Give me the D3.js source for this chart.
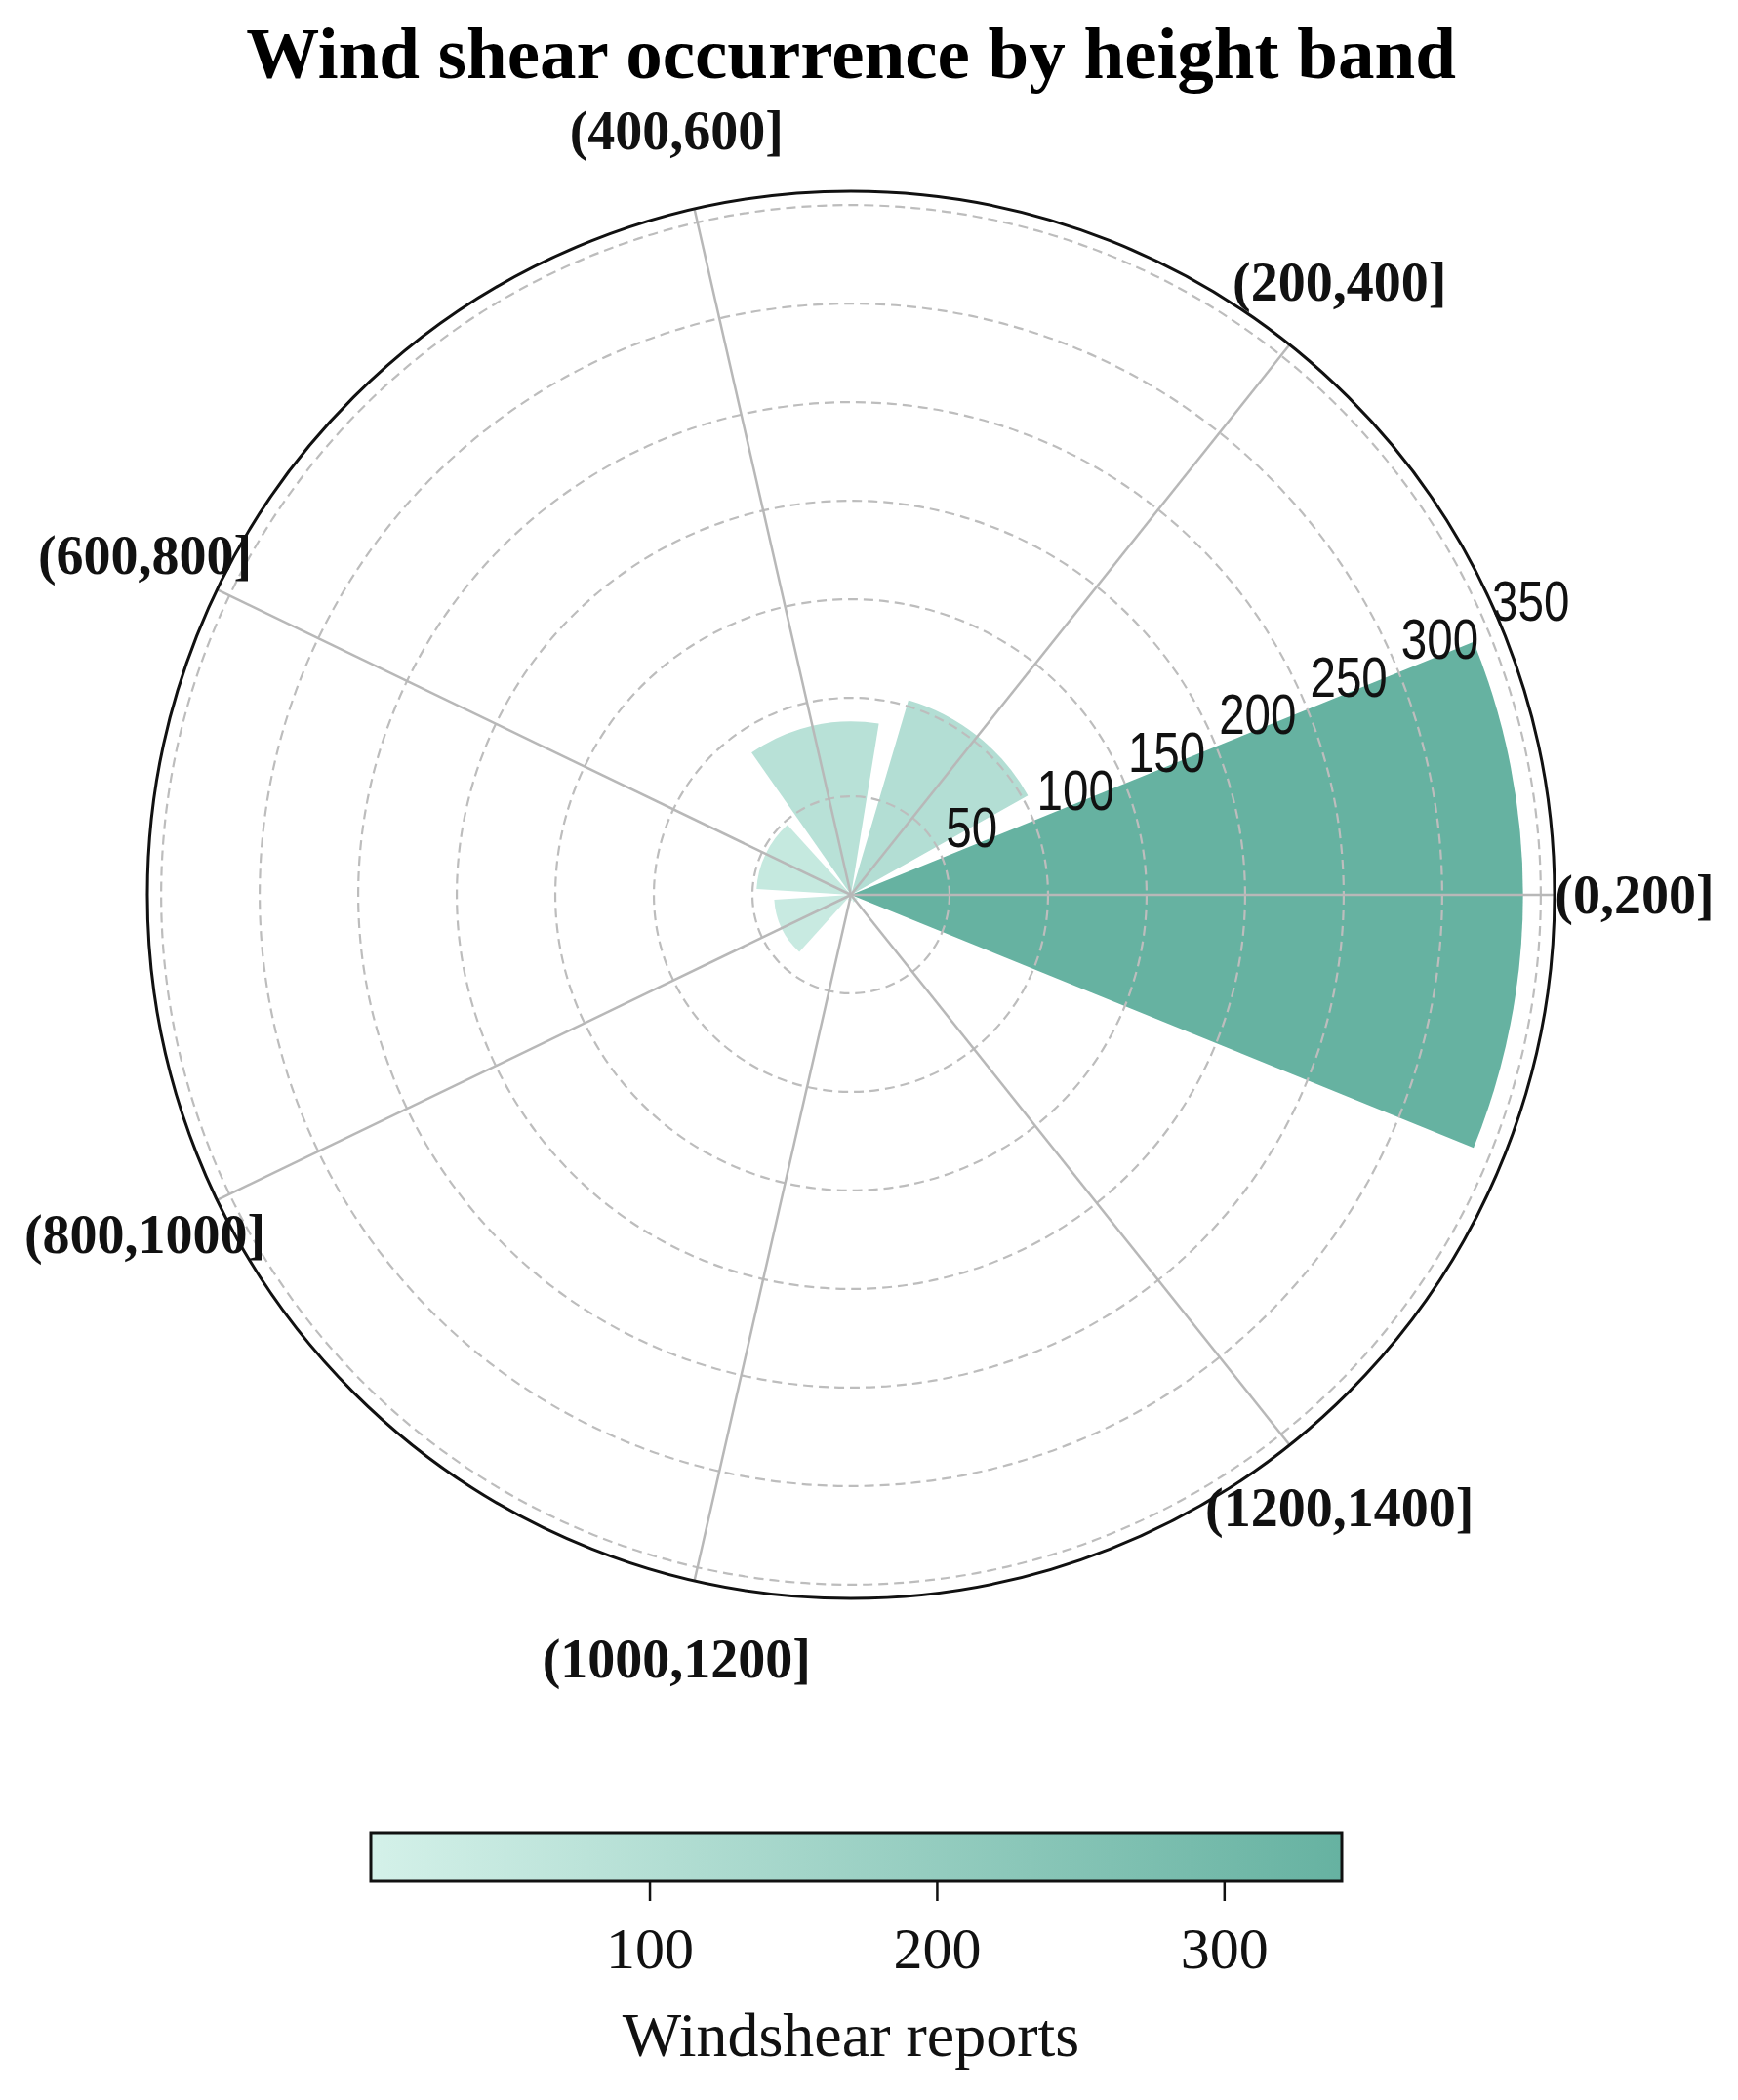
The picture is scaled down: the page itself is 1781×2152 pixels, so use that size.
<!DOCTYPE html>
<html>
<head>
<meta charset="utf-8">
<script src="https://cdnjs.cloudflare.com/ajax/libs/d3/7.8.5/d3.min.js"></script>
<style>
  body { margin: 0; background: #fff; }
</style>
</head>
<body>
<script>
// data
var bands = ["(0,200]", "(200,400]", "(400,600]", "(600,800]", "(800,1000]", "(1000,1200]", "(1200,1400]"];
var reports = [341, 103, 88, 48, 39, 3, 4];
var radialTicks = [50, 100, 150, 200, 250, 300, 350];
var colorbarTicks = [100, 200, 300];

function windrose() {
    var width = 1781,
        height = 2152,
        cx = 872,
        cy = 917,
        outer = 721,
        rMax = 357;

    var svg = d3.select("body").append("svg")
        .attr("width", width)
        .attr("height", height);

    // radius and angle scales
    var r = d3.scaleLinear()
        .domain([0, rMax])
        .range([0, outer]);
    var theta = d3.scaleLinear()
        .domain([0, bands.length])
        .range([0, 2 * Math.PI]);
    var barWidth = 0.86 * (theta(1) - theta(0));

    var color = d3.scaleLinear()
        .domain([d3.min(reports), d3.max(reports)])
        .range(["#d4f1e9", "#66b2a1"]);

    // title
    svg.append("text")
        .attr("x", cx)
        .attr("y", 80)
        .attr("text-anchor", "middle")
        .style("font-family", "'Liberation Serif', 'DejaVu Serif', serif")
        .style("font-weight", "bold")
        .style("font-size", "75px")
        .text("Wind shear occurrence by height band");

    var g = svg.append("g")
        .attr("transform", "translate(" + cx + "," + cy + ")");

    // bars (matplotlib angle -> d3 arc angle)
    var arc = d3.arc()
        .innerRadius(0)
        .outerRadius(function (d) { return r(d.value); })
        .startAngle(function (d) { return Math.PI / 2 - theta(d.i) - barWidth / 2; })
        .endAngle(function (d) { return Math.PI / 2 - theta(d.i) + barWidth / 2; });

    g.selectAll(".bar")
        .data(reports.map(function (v, i) { return { value: v, i: i }; }))
        .enter().append("path")
        .attr("class", "bar")
        .attr("d", arc)
        .attr("fill", function (d) { return color(d.value); });

    // dashed radial grid circles
    g.selectAll(".rgrid")
        .data(radialTicks)
        .enter().append("circle")
        .attr("class", "rgrid")
        .attr("r", function (d) { return r(d); })
        .attr("fill", "none")
        .attr("stroke", "#bdbdbd")
        .attr("stroke-width", 2.2)
        .attr("stroke-dasharray", "10,6");

    // spokes
    g.selectAll(".spoke")
        .data(bands)
        .enter().append("line")
        .attr("class", "spoke")
        .attr("x1", 0)
        .attr("y1", 0)
        .attr("x2", function (d, i) { return outer * Math.cos(theta(i)); })
        .attr("y2", function (d, i) { return -outer * Math.sin(theta(i)); })
        .attr("stroke", "#b8b8b8")
        .attr("stroke-width", 2.5);

    // outer spine
    g.append("circle")
        .attr("r", outer)
        .attr("fill", "none")
        .attr("stroke", "#111")
        .attr("stroke-width", 3);

    // radial tick labels along 22.5 deg
    var rlab = 22.5 * Math.PI / 180;
    g.selectAll(".rlabel")
        .data(radialTicks)
        .enter().append("text")
        .attr("class", "rlabel")
        .attr("transform", function (d) {
            var x = r(d) * Math.cos(rlab) + 4,
                y = -r(d) * Math.sin(rlab) - 10;
            return "translate(" + x + "," + y + ") scale(0.82,1)";
        })
        .style("font-family", "'Liberation Sans', 'DejaVu Sans', sans-serif")
        .style("font-size", "58px")
        .style("fill", "#111")
        .text(function (d) { return d; });

    // band labels around the circle
    g.selectAll(".tlabel")
        .data(bands)
        .enter().append("text")
        .attr("class", "tlabel")
        .attr("x", function (d, i) { return 803 * Math.cos(theta(i)); })
        .attr("y", function (d, i) { return -803 * Math.sin(theta(i)); })
        .attr("text-anchor", "middle")
        .attr("dominant-baseline", "central")
        .style("font-family", "'Liberation Serif', 'DejaVu Serif', serif")
        .style("font-weight", "bold")
        .style("font-size", "56px")
        .style("fill", "#111")
        .text(function (d) { return d; });

    // colorbar
    var cbX = 380, cbY = 1878, cbW = 995, cbH = 50;
    var cb = d3.scaleLinear()
        .domain(color.domain())
        .range([cbX, cbX + cbW]);

    var grad = svg.append("defs").append("linearGradient")
        .attr("id", "cbgrad");
    grad.selectAll("stop")
        .data(color.domain())
        .enter().append("stop")
        .attr("offset", function (d, i) { return i * 100 + "%"; })
        .attr("stop-color", function (d) { return color(d); });

    svg.append("rect")
        .attr("x", cbX)
        .attr("y", cbY)
        .attr("width", cbW)
        .attr("height", cbH)
        .attr("fill", "url(#cbgrad)")
        .attr("stroke", "#111")
        .attr("stroke-width", 3);

    var cbAxis = svg.append("g")
        .attr("transform", "translate(0," + (cbY + cbH) + ")")
        .call(d3.axisBottom(cb).tickValues(colorbarTicks).tickSize(20).tickPadding(26));
    cbAxis.select(".domain").remove();
    cbAxis.selectAll(".tick line")
        .attr("stroke", "#111")
        .attr("stroke-width", 2.5);
    cbAxis.selectAll(".tick text")
        .style("font-family", "'Liberation Serif', 'DejaVu Serif', serif")
        .style("font-size", "60px")
        .style("fill", "#111");

    svg.append("text")
        .attr("x", cx)
        .attr("y", 2107)
        .attr("text-anchor", "middle")
        .style("font-family", "'Liberation Serif', 'DejaVu Serif', serif")
        .style("font-size", "64px")
        .style("fill", "#111")
        .text("Windshear reports");
}

windrose();
</script>
</body>
</html>
